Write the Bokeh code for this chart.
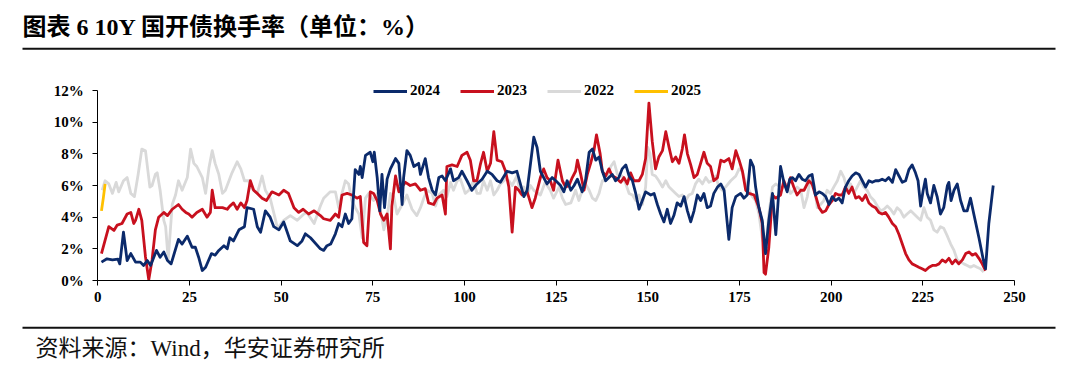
from bokeh.plotting import figure
from bokeh.models import Range1d, FixedTicker, PrintfTickFormatter, Legend, LegendItem, LinearAxis
from bokeh.core.properties import value
from bokeh.embed import file_html
from bokeh.resources import INLINE

# ---------------- data (trading-day index, turnover %) ----------------
d2024 = [1.0, 2.5, 4.0, 5.5, 6.0, 7.0, 8.0, 9.0, 10.3, 11.6, 12.5, 13.5, 14.4, 16.0, 17.0, 18.0, 19.0, 20.0,
         22.0, 23.0, 24.4, 25.7, 26.6, 27.5, 28.5, 29.4, 31.0, 32.0, 33.0, 34.4, 35.3, 36.0, 37.0, 38.5, 40.0,
         40.7, 42.5, 43.5, 44.4, 45.7, 47.0, 48.0, 49.4, 50.7, 52.5, 54.4, 55.7, 56.6, 58.0, 60.7, 61.6, 62.5,
         63.5, 64.8, 65.7, 66.6, 67.5, 68.4, 69.3, 70.2, 71.2, 71.6, 72.1, 73.0, 74.3, 75.0, 75.4, 76.2, 76.9,
         77.5, 78.2, 78.9, 79.8, 81.2, 82.1, 83.0, 83.4, 84.3, 85.2, 86.2, 87.5, 88.0, 89.3, 90.2, 91.2, 92.1,
         93.0, 93.9, 94.8, 96.2, 97.0, 98.4, 99.3, 100.7, 102.0, 103.4, 104.8, 106.2, 107.5, 108.9, 109.8,
         111.6, 113.0, 114.3, 116.2, 117.1, 118.9, 119.8, 120.7, 122.5, 123.9, 124.9, 126.2, 127.1, 128.0,
         129.0, 129.9, 130.8, 132.1, 133.0, 134.0, 134.9, 135.8, 136.7, 137.6, 138.5, 139.4, 140.3, 141.2,
         142.1, 143.0, 144.0, 144.9, 145.8, 146.7, 147.6, 148.5, 149.4, 150.8, 151.7, 152.6, 153.5, 154.4,
         155.3, 156.2, 157.1, 158.0, 159.0, 159.9, 160.8, 161.7, 162.6, 163.5, 164.4, 165.3, 166.2, 167.1,
         168.0, 169.0, 169.9, 170.8, 171.5, 172.1, 173.0, 174.0, 175.3, 176.2, 177.1, 178.0, 178.8, 179.4,
         180.3, 181.2, 182.1, 183.0, 184.0, 184.9, 185.3, 186.2, 187.1, 188.0, 188.7, 189.4, 190.3, 191.2,
         192.1, 193.0, 193.9, 194.8, 195.7, 196.7, 197.6, 198.5, 199.4, 200.3, 201.2, 202.1, 203.0, 203.9,
         204.8, 205.7, 206.7, 207.6, 208.5, 209.4, 210.3, 211.2, 212.1, 213.0, 213.9, 214.8, 215.7, 216.7,
         217.6, 218.5, 219.4, 220.3, 221.2, 222.1, 223.0, 223.7, 224.4, 225.1, 225.7, 226.2, 227.1, 228.0,
         228.9, 229.8, 230.7, 231.7, 232.1, 232.7, 233.5, 234.4, 235.3, 236.2, 237.1, 238.0, 238.9, 240.3,
         241.5, 242.1, 243.0, 244.2]
v2024 = [1.16, 1.37, 1.3, 1.35, 1.05, 3.05, 1.26, 1.7, 1.16, 1.16, 0.95, 1.26, 0.95, 1.9, 1.47, 1.8, 1.26, 1.05,
         2.6, 2.3, 2.8, 2.1, 2.1, 1.47, 0.63, 0.84, 1.7, 1.6, 1.9, 2.2, 2.0, 2.7, 2.5, 3.2, 3.4,
         4.6, 4.5, 3.4, 3.05, 4.4, 4.0, 3.4, 3.2, 3.7, 2.5, 2.2, 2.5, 2.95, 2.7, 2.0, 1.9, 2.2,
         2.3, 2.95, 3.6, 3.4, 4.2, 3.6, 3.9, 7.0, 6.7, 7.2, 6.5, 7.9, 8.1, 7.5, 8.1, 6.5, 4.4,
         6.7, 4.6, 6.4, 7.05, 7.7, 7.4, 4.8, 6.5, 8.2, 7.9, 7.2, 7.4, 6.7, 7.7, 6.5, 5.7, 5.4,
         6.5, 6.6, 6.3, 7.05, 6.3, 6.5, 6.9, 6.3, 5.7, 6.1, 6.4, 6.9, 6.7, 6.3, 6.2,
         6.9, 6.8, 6.9, 5.3, 5.7, 9.05, 8.4, 6.9, 6.1, 6.5, 6.3, 6.0, 5.6, 6.3,
         5.7, 6.0, 6.4, 5.6, 6.3, 8.1, 8.3, 7.6, 7.8, 6.9, 6.3, 6.5, 6.7, 6.3,
         6.5, 7.05, 7.3, 6.6, 6.3, 5.5, 4.5, 5.05, 5.6, 5.4, 5.5, 4.8, 4.2, 3.7,
         4.5, 3.6, 4.1, 4.9, 4.7, 5.3, 4.4, 3.7, 4.4, 5.4, 5.05, 5.5, 4.6, 4.7,
         5.5, 5.9, 6.1, 5.7, 4.0, 2.6, 4.6, 5.3, 5.5, 5.2, 5.4, 7.6, 7.2, 5.9,
         4.6, 3.8, 1.7, 3.8, 5.5, 2.9, 4.2, 7.2, 6.2, 5.6, 6.4, 6.5, 6.3, 6.7,
         6.4, 6.3, 6.6, 6.7, 5.4, 5.6, 5.5, 5.3, 4.8, 5.3, 5.05, 5.2, 4.9, 5.9,
         6.3, 6.6, 6.8, 6.7, 6.3, 5.9, 6.3, 6.2, 6.3, 6.3, 6.4, 6.3, 6.5, 6.2,
         7.0, 6.6, 6.2, 6.3, 7.0, 7.3, 6.8, 6.3, 4.7, 5.7, 6.4, 5.5, 4.9, 6.0,
         5.3, 4.2, 4.6, 6.0, 6.2, 5.05, 5.7, 6.1, 5.05, 4.4, 4.4, 5.2, 4.2, 2.7,
         1.3, 0.74, 3.6, 6.0]

d2023 = [1.0, 3.0, 4.4, 5.3, 6.6, 8.0, 9.0, 9.8, 10.3, 11.2, 12.0, 13.0, 13.9, 14.8, 15.7, 16.6, 18.0, 19.0,
         20.3, 22.0, 23.0, 24.0, 24.8, 25.7, 27.0, 28.5, 29.8, 30.7, 31.2, 32.0, 34.0, 35.3, 36.0, 37.0, 38.0,
         39.0, 40.0, 40.7, 41.6, 42.5, 43.5, 44.8, 46.0, 47.5, 49.4, 50.7, 52.0, 53.5, 54.8, 56.0, 57.5, 59.0,
         60.7, 61.6, 63.4, 64.8, 65.7, 66.6, 68.0, 69.3, 70.7, 71.6, 72.5, 73.4, 74.3, 75.2, 76.2, 77.1, 78.0,
         78.9, 79.8, 80.2, 81.2, 82.1, 82.5, 83.9, 85.2, 86.6, 88.0, 89.3, 90.2, 91.6, 92.5, 93.9, 94.8, 95.2,
         96.6, 98.0, 99.3, 100.7, 101.6, 102.5, 103.4, 104.3, 105.2, 106.2, 107.1, 108.0, 108.9, 110.2, 111.2,
         112.1, 113.0, 113.9, 114.8, 115.7, 117.1, 118.4, 119.3, 120.7, 121.6, 122.5, 123.4, 124.3, 125.5,
         126.7, 127.6, 128.5, 129.4, 130.3, 130.8, 131.7, 132.6, 133.5, 134.4, 135.3, 136.0, 137.0, 137.6,
         138.5, 139.4, 140.3, 141.2, 142.6, 143.5, 144.4, 145.3, 146.2, 147.6, 148.5, 149.4, 150.3, 151.2,
         152.1, 153.0, 154.0, 154.9, 155.8, 156.7, 157.6, 158.5, 159.4, 160.0, 160.8, 161.7, 162.6, 163.5,
         164.4, 165.3, 166.2, 167.1, 168.0, 169.0, 169.9, 170.8, 172.1, 173.0, 174.0, 174.9, 175.8, 176.7,
         177.6, 179.0, 180.3, 181.2, 181.7, 182.1, 183.0, 184.0, 184.9, 186.2, 187.1, 188.0, 188.9, 189.8,
         190.7, 191.7, 192.6, 193.9, 194.8, 195.7, 196.7, 197.6, 198.5, 199.4, 200.3, 201.2, 202.1, 203.0,
         203.9, 204.8, 205.7, 206.7, 207.6, 208.5, 209.4, 210.3, 211.2, 212.1, 213.0, 213.9, 214.8, 215.7,
         216.7, 217.6, 218.5, 219.4, 220.3, 221.2, 222.1, 223.0, 223.9, 224.8, 225.7, 226.7, 227.6, 228.5,
         229.4, 230.3, 231.2, 232.1, 233.0, 233.9, 234.8, 235.8, 236.7, 237.6, 238.5, 239.4, 240.3, 241.2,
         242.1]
v2023 = [1.7, 3.4, 3.16, 3.5, 3.6, 4.2, 4.3, 3.6, 3.8, 4.5, 3.8, 1.5, 0.05, 1.3, 3.2, 4.0, 4.3, 4.1,
         4.5, 4.8, 4.5, 4.3, 4.2, 4.0, 4.3, 4.5, 4.0, 4.3, 5.7, 4.6, 4.6, 4.5, 4.7, 4.9, 4.5,
         4.9, 4.6, 5.05, 6.3, 5.7, 5.5, 5.2, 5.05, 5.6, 5.4, 5.7, 5.5, 4.6, 4.3, 4.5, 4.2, 4.4,
         4.1, 3.9, 3.8, 4.2, 4.0, 5.4, 5.5, 5.4, 5.2, 5.3, 2.4, 2.2, 5.6, 5.5, 5.05, 4.2, 3.8,
         4.2, 2.0, 4.7, 6.6, 5.6, 5.8, 6.2, 6.0, 6.1, 5.7, 5.8, 4.9, 4.8, 5.2, 5.4, 4.2, 7.2,
         7.3, 7.2, 7.9, 8.1, 7.6, 6.3, 6.3, 7.3, 8.1, 6.9, 7.4, 9.4, 7.6, 7.5, 6.9,
         5.9, 3.05, 5.9, 5.7, 5.4, 5.6, 4.6, 5.2, 6.5, 7.05, 6.5, 6.3, 5.7, 7.6,
         6.3, 5.9, 6.0, 6.5, 6.9, 7.6, 6.7, 5.7, 6.7, 7.4, 8.2, 9.2, 8.0, 6.9,
         6.6, 7.05, 6.6, 6.5, 6.2, 6.5, 6.1, 6.8, 6.3, 6.3, 6.7, 7.7, 11.2, 8.8,
         7.05, 7.8, 8.2, 9.4, 8.4, 7.5, 7.8, 7.4, 8.3, 9.2, 8.0, 7.3, 6.5, 6.7,
         7.4, 8.1, 7.4, 7.2, 6.3, 6.5, 7.6, 7.5, 7.7, 7.05, 8.2, 7.6, 6.9, 5.7,
         5.5, 5.4, 4.6, 3.6, 0.5, 0.4, 2.1, 5.4, 5.2, 5.4, 6.3, 5.7, 6.5, 5.9,
         5.4, 5.7, 5.7, 6.3, 6.1, 5.4, 4.6, 4.3, 4.4, 4.8, 5.05, 5.5, 5.4, 5.4,
         5.9, 5.5, 5.9, 5.2, 5.3, 5.05, 5.4, 4.9, 4.7, 4.6, 4.3, 4.2, 4.3, 4.0,
         3.6, 3.4, 2.9, 2.3, 1.7, 1.3, 1.05, 0.95, 0.84, 0.74, 0.63, 0.84, 0.95, 0.95,
         1.05, 1.3, 1.16, 1.4, 1.05, 1.3, 1.05, 1.3, 1.7, 1.8, 1.6, 1.7, 1.4, 1.05,
         0.63]

d2022 = [1.2, 2.0, 3.0, 4.0, 5.0, 5.7, 7.0, 8.0, 9.0, 10.0, 11.0, 12.0, 13.0, 14.2, 14.8, 15.7, 16.2, 17.0,
         18.0, 18.5, 19.2, 20.3, 21.2, 22.0, 23.0, 24.4, 25.3, 26.2, 27.0, 28.5, 29.4, 30.3, 31.2, 32.0, 33.0,
         34.0, 34.8, 36.6, 38.0, 39.0, 40.0, 41.2, 41.6, 43.5, 44.8, 45.7, 47.0, 48.5, 49.0, 50.7, 52.5, 54.4,
         56.2, 57.0, 59.0, 60.7, 61.6, 63.4, 64.8, 65.7, 66.6, 67.5, 68.4, 69.3, 70.2, 71.2, 72.1, 73.0, 73.9,
         75.2, 76.2, 77.1, 78.0, 78.9, 79.8, 80.7, 81.6, 83.0, 84.3, 85.7, 87.0, 88.0, 88.9, 89.8, 91.2, 92.1,
         93.0, 94.3, 95.2, 96.2, 97.0, 98.0, 98.9, 100.2, 101.2, 102.5, 103.4, 104.3, 105.2, 106.2, 107.1,
         108.0, 108.9, 109.8, 111.2, 112.1, 113.0, 114.3, 115.2, 116.2, 117.1, 118.0, 118.9, 120.7, 122.0,
         123.4, 124.3, 125.8, 126.7, 127.6, 129.0, 130.3, 131.2, 132.1, 133.0, 134.0, 134.9, 135.8, 136.7,
         137.6, 138.5, 139.9, 140.8, 141.7, 143.0, 144.0, 144.9, 145.8, 146.7, 147.6, 148.5, 149.4, 150.0,
         150.6, 151.2, 152.1, 153.0, 154.0, 154.9, 155.8, 156.7, 157.6, 158.5, 159.4, 160.3, 161.2, 162.1,
         163.0, 163.9, 164.9, 165.8, 166.7, 167.6, 168.5, 169.4, 170.3, 171.2, 172.6, 174.0, 174.9, 175.8,
         176.7, 177.6, 178.5, 179.4, 180.3, 181.2, 182.1, 183.0, 184.0, 184.9, 186.2, 187.1, 188.0, 188.9,
         189.8, 190.7, 191.7, 192.6, 193.5, 194.4, 195.3, 196.2, 197.1, 198.0, 198.9, 199.8, 200.7, 201.7,
         202.6, 203.5, 204.4, 205.3, 206.2, 207.1, 208.0, 208.9, 209.8, 210.7, 211.7, 212.6, 213.5, 214.4,
         215.3, 216.2, 217.1, 218.0, 218.9, 219.8, 220.7, 221.7, 222.6, 223.5, 224.4, 225.3, 226.2, 227.1,
         228.0, 228.9, 229.8, 230.7, 231.7, 232.6, 233.5, 234.4, 235.3, 236.2, 237.1, 238.0, 238.9, 239.8,
         240.7, 241.6]
v2022 = [5.7, 6.3, 6.1, 5.5, 6.2, 5.6, 6.3, 6.5, 5.5, 5.3, 6.7, 8.3, 8.2, 5.9, 6.0, 6.7, 6.8, 5.7,
         3.8, 3.4, 1.3, 4.8, 5.4, 6.3, 5.7, 6.5, 8.3, 7.4, 7.2, 6.5, 5.5, 7.1, 8.2, 7.4, 6.7,
         5.5, 5.7, 6.8, 7.5, 7.05, 6.3, 6.3, 5.9, 5.5, 6.6, 5.7, 5.2, 3.8, 3.3, 3.8, 4.1, 3.8,
         4.2, 4.3, 3.6, 4.7, 5.2, 5.6, 5.6, 4.6, 5.5, 6.3, 6.1, 5.05, 4.6, 4.2, 2.7, 5.2, 5.5,
         5.05, 5.5, 4.4, 3.2, 4.0, 5.5, 5.3, 4.2, 4.8, 5.4, 4.5, 4.1, 4.6, 5.2, 5.7, 5.5, 4.7,
         5.4, 5.7, 5.3, 6.2, 5.7, 6.3, 6.4, 5.5, 5.7, 6.3, 5.5, 5.5, 6.3, 5.7, 6.3,
         5.4, 5.7, 6.1, 6.4, 6.3, 6.0, 6.6, 5.5, 5.9, 5.4, 6.0, 5.7, 5.4, 6.2,
         5.7, 5.2, 5.9, 5.2, 4.8, 4.9, 5.7, 5.05, 5.7, 6.1, 5.7, 5.2, 5.05, 5.5,
         6.3, 6.3, 7.2, 7.5, 6.7, 6.6, 6.1, 5.5, 5.4, 5.05, 5.4, 4.8, 5.9, 8.4,
         8.0, 6.7, 6.6, 6.3, 5.9, 6.3, 5.9, 5.7, 5.5, 5.3, 5.4, 5.05, 5.4, 5.5,
         6.1, 6.4, 6.1, 6.5, 6.2, 6.3, 6.6, 5.9, 5.7, 5.9, 6.3, 6.6, 7.05, 6.9,
         6.1, 5.7, 5.3, 5.05, 4.2, 2.7, 1.9, 4.2, 5.9, 6.1, 5.9, 5.9, 6.1, 5.5,
         5.7, 5.9, 5.7, 4.6, 5.3, 6.5, 6.1, 4.6, 4.8, 5.05, 5.7, 5.5, 5.9, 6.3,
         6.9, 6.5, 5.7, 6.1, 5.5, 5.9, 6.3, 5.9, 5.7, 5.3, 5.05, 4.7, 4.4, 4.5,
         4.7, 4.5, 4.2, 4.6, 4.4, 4.0, 4.2, 4.4, 4.2, 4.0, 3.8, 4.6, 4.0, 3.8,
         3.2, 3.05, 3.4, 3.3, 2.8, 2.3, 1.9, 1.3, 1.16, 1.05, 0.95, 0.84, 0.95, 0.84,
         0.74, 0.53]

d2025 = [1.0, 1.5, 2.0]
v2025 = [4.4, 5.2, 6.1]

x_ticks = [0, 25, 50, 75, 100, 125, 150, 175, 200, 225, 250]
y_ticks = [0, 2, 4, 6, 8, 10, 12]

title_text = "图表 6 10Y 国开债换手率（单位：%）"
source_text = "资料来源：Wind，华安证券研究所"

# ---------------- page geometry (pixels -> data) ----------------
W, H = 1080, 374
X0_PX, X250_PX = 97.3, 1014.0      # pixel columns of day 0 and day 250
Y0_PX, Y12_PX = 280.0, 90.0        # pixel rows of 0% and 12%
KX = (X250_PX - X0_PX) / 250.0
KY = (Y0_PX - Y12_PX) / 12.0


def sx(px):
    return (px - X0_PX) / KX


def sy(py):
    return (Y0_PX - py) / KY


SERIF = "Liberation Serif"
MIXED = "'Liberation Serif', 'Noto Sans CJK SC'"
C2024 = "#0B2A6B"
C2023 = "#C8101E"
C2022 = "#D9D9D9"
C2025 = "#FFC000"

p = figure(width=W, height=H, x_range=Range1d(sx(0), sx(W)), y_range=Range1d(sy(H), sy(0)),
           x_axis_type=None, y_axis_type=None, min_border=0, outline_line_color=None,
           toolbar_location=None, output_backend="svg")

# title, rules and source
p.text(x=[sx(22)], y=[sy(26.5)], text=[title_text], text_font=value(MIXED), text_font_size="24px",
       text_font_style="bold", text_color="#000000", text_baseline="middle", text_align="left")
p.line(x=[sx(22), sx(1055)], y=[sy(48.3), sy(48.3)], line_width=2, line_color="#111111")
p.line(x=[sx(22), sx(1055)], y=[sy(327.3), sy(327.3)], line_width=2, line_color="#111111")
p.text(x=[sx(35)], y=[sy(348)], text=[source_text], text_font=value(MIXED), text_font_size="23px",
       text_color="#111111", text_baseline="middle", text_align="left")

# series
r22 = p.line(d2022, v2022, line_color=C2022, line_width=2.8, line_join="round")
r23 = p.line(d2023, v2023, line_color=C2023, line_width=2.8, line_join="round")
r24 = p.line(d2024, v2024, line_color=C2024, line_width=2.8, line_join="round")
r25 = p.line(d2025, v2025, line_color=C2025, line_width=2.8, line_join="round")

# axes placed at the data origin
xaxis = LinearAxis(fixed_location=0, bounds=(0, 250), ticker=FixedTicker(ticks=x_ticks))
yaxis = LinearAxis(fixed_location=0, bounds=(0, 12), ticker=FixedTicker(ticks=y_ticks),
                   formatter=PrintfTickFormatter(format="%d%%"))
for ax in (xaxis, yaxis):
    ax.axis_line_color = "#000000"
    ax.axis_line_width = 1
    ax.major_tick_line_color = "#000000"
    ax.major_tick_out = 5
    ax.major_tick_in = 0
    ax.minor_tick_line_color = None
    ax.major_label_text_font = SERIF
    ax.major_label_text_font_style = "bold"
    ax.major_label_text_font_size = "15px"
    ax.major_label_text_color = "#000000"
yaxis.major_label_standoff = 9
xaxis.major_label_standoff = 6
p.add_layout(xaxis, "below")
p.add_layout(yaxis, "left")

legend = Legend(items=[LegendItem(label="2024", renderers=[r24]),
                       LegendItem(label="2023", renderers=[r23]),
                       LegendItem(label="2022", renderers=[r22]),
                       LegendItem(label="2025", renderers=[r25])],
                orientation="horizontal", location=(373, H - 99))
legend.glyph_width = 34
legend.glyph_height = 16
legend.label_height = 16
legend.label_standoff = 3
legend.spacing = 20
legend.padding = 0
legend.margin = 0
legend.border_line_color = None
legend.background_fill_alpha = 0
legend.label_text_font = SERIF
legend.label_text_font_style = "bold"
legend.label_text_font_size = "15px"
legend.label_text_color = "#000000"
p.add_layout(legend)

open("out.html", "w").write(file_html(p, INLINE))
